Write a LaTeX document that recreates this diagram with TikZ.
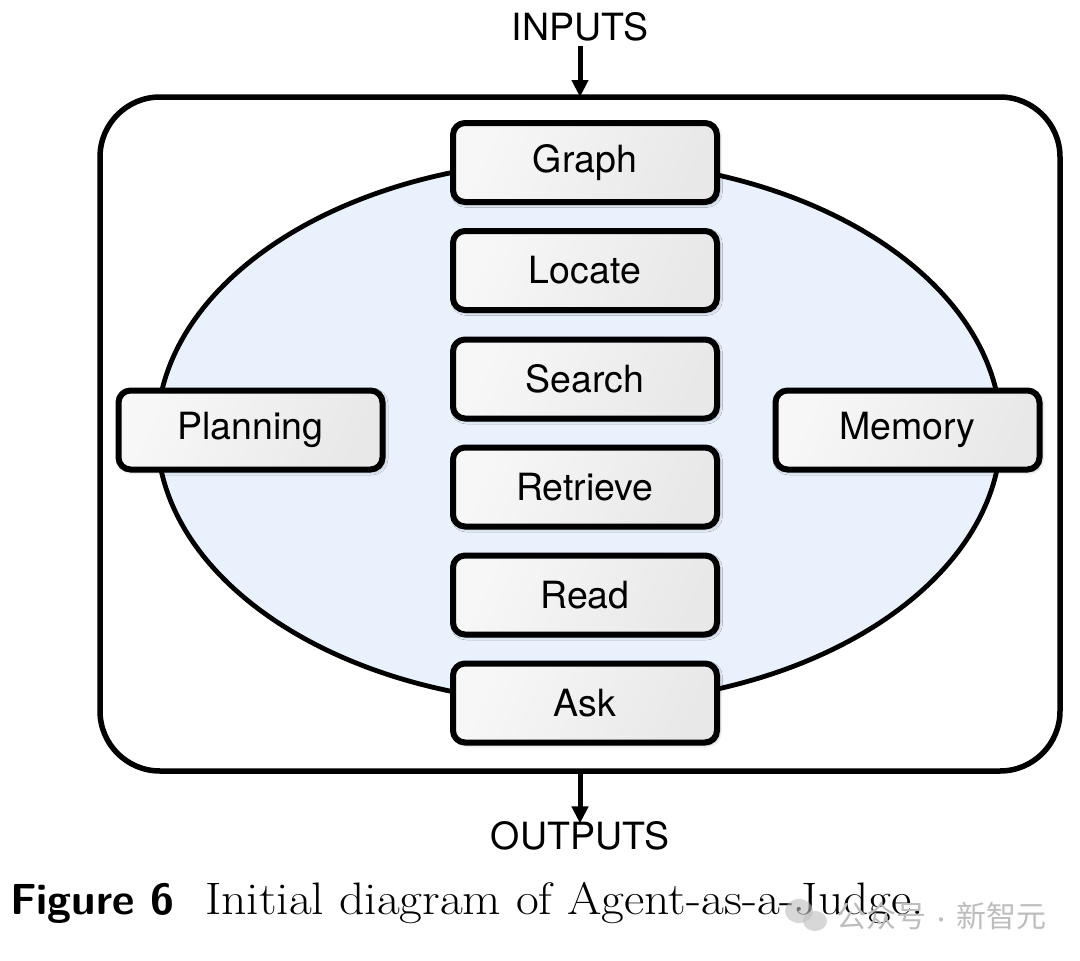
\documentclass[tikz,border=0pt]{standalone}
\usepackage{fontspec}
\setmainfont{Latin Modern Roman}
\newfontfamily\helv{TeX Gyre Heros}
\newfontfamily\capfont[FakeStretch=1.09]{Latin Modern Roman}
\newfontfamily\cjk{Noto Sans CJK SC}
\usetikzlibrary{arrows.meta,shadows.blur}
\definecolor{ellfill}{HTML}{E8F1FC}
\definecolor{wmgray}{HTML}{BDBDBD}
\tikzset{
  modbox/.style={draw=black, line width=6pt, rounded corners=12pt,
    minimum width=264pt, minimum height=79pt, inner sep=0pt,
    left color=black!3, middle color=white, right color=black!9, shading angle=65,
    blur shadow={shadow xshift=1.5pt, shadow yshift=-1.5pt, shadow blur steps=6, shadow opacity=40, shadow blur radius=4pt},
    font=\helv\fontsize{37.5}{44}\selectfont},
  iolabel/.style={inner sep=0pt, font=\helv\fontsize{37.5}{44}\selectfont},
  ioarrow/.style={line width=5pt, -{Triangle[length=17pt,width=16pt]}},
}
\begin{document}
\begin{tikzpicture}[x=1pt,y=-1pt]
\useasboundingbox (0,0) rectangle (1080,961);
% outer frame
\draw[line width=5.5pt, rounded corners=60pt] (100,97) rectangle (1060,771);
\coordinate (topin) at (580,97);
\coordinate (botout) at (580,771);
% ellipse
\draw[line width=4.8pt, fill=ellfill] (579,432) ellipse [x radius=422, y radius=272];
% boxes
\node[modbox] (graph) at (585,162.5) {Graph};
\node[modbox] (locate) at (585,270.5) {Locate};
\node[modbox] (search) at (585,379) {Search};
\node[modbox] (retrieve) at (585,487) {Retrieve};
\node[modbox] (read) at (585,595) {Read};
\node[modbox] (ask) at (585,703) {Ask};
\node[modbox] (planning) at (250.5,430) {Planning};
\node[modbox] (memory) at (907.5,430) {Memory};
% inputs / outputs
\node[iolabel] (inputs) at (580,27) {INPUTS};
\node[iolabel] (outputs) at (580,836) {OUTPUTS};
\draw[ioarrow] (inputs.south) ++(0,4) -- (topin);
\draw[ioarrow] (botout) -- ([yshift=-2pt]outputs.north);
% caption
\node[anchor=base west, inner sep=0pt, font=\sffamily\bfseries\fontsize{43.5}{50}\selectfont] (figlab) at (10,914) {Figure 6};
\node[anchor=base west, inner sep=0pt, font=\capfont\fontsize{45.5}{52}\selectfont] (captext) at (205,914) {Initial diagram of Agent-as-a-Judge.};
% watermark
\fill[wmgray, opacity=0.6] (799,911) ellipse [x radius=14, y radius=12];
\fill[wmgray, opacity=0.6] (815,921) ellipse [x radius=12, y radius=10];
\node[anchor=base west, inner sep=0pt, text=wmgray, font=\cjk\fontsize{30}{34}\selectfont] (wm) at (836,927) {公众号\,{\fontsize{20}{22}\selectfont·}\,新智元};
\end{tikzpicture}
\end{document}
